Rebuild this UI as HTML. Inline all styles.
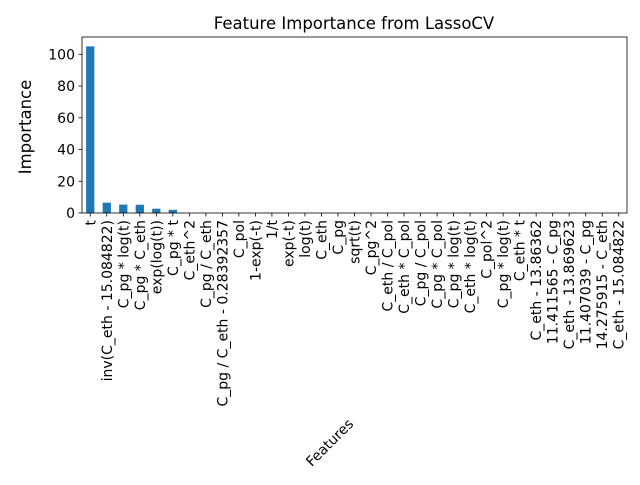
<!DOCTYPE html>
<html><head><meta charset="utf-8"><style>
body{margin:0;background:#fff}
svg text{font-family:"DejaVu Sans","Liberation Sans",sans-serif;fill:#000}
</style></head><body>
<svg id="chart" width="640" height="480" xmlns="http://www.w3.org/2000/svg">
<rect width="640" height="480" fill="#fff"/>
<text x="354" y="29" font-size="16.5" text-anchor="middle">Feature Importance from LassoCV</text>
<text transform="translate(31,127) rotate(-90)" font-size="16.5" text-anchor="middle">Importance</text>
<text transform="translate(333,446) rotate(-45)" font-size="14" text-anchor="middle">Features</text>
<g id="bars"></g><g id="xt"></g><g id="yt"></g>
<rect x="82" y="37" width="545" height="176" fill="none" stroke="#000" stroke-width="0.8"/>
</svg>
<script>
const categories=["t","inv(C_eth - 15.084822)","C_pg * log(t)","C_pg * C_eth","exp(log(t))","C_pg * t","C_eth^2","C_pg / C_eth","C_pg / C_eth - 0.28392357","C_pol","1-exp(-t)","1/t","exp(-t)","log(t)","C_eth","C_pg","sqrt(t)","C_pg^2","C_eth / C_pol","C_eth * C_pol","C_pg / C_pol","C_pg * C_pol","C_pg * log(t)","C_eth * log(t)","C_pol^2","C_pg * log(t)","C_eth * t","C_eth - 13.86362","11.411565 - C_pg","C_eth - 13.869623","11.407039 - C_pg","14.275915 - C_eth","C_eth - 15.084822"];
const values=[105,6.5,5.3,5.2,2.7,2.0,0,0,0,0,0,0,0,0,0,0,0,0,0,0,0,0,0,0,0,0,0,0,0,0,0,0,0];
const yTicks=[0,20,40,60,80,100];
const NS="http://www.w3.org/2000/svg";
const x0=82,x1=627,yTop=37,yBot=213,yMax=110.9;
const step=(x1-x0)/categories.length;
const xs=i=>x0+step*(i+0.5);
const ys=v=>yBot-(v/yMax)*(yBot-yTop);
const bars=document.getElementById('bars'),xt=document.getElementById('xt'),yt=document.getElementById('yt');
function mk(t,a){const e=document.createElementNS(NS,t);for(const k in a)e.setAttribute(k,a[k]);return e;}
values.forEach((v,i)=>{
 const r=mk('rect',{x:xs(i)-step/4,y:ys(v),width:step/2,height:yBot-ys(v),fill:'#1f77b4'});
 
 
 bars.appendChild(r);
});
categories.forEach((c,i)=>{
 const x=xs(i);
 const l=mk('line',{x1:x,x2:x,y1:yBot,y2:yBot+3.5,stroke:'#000','stroke-width':0.8});
 
 
 xt.appendChild(l);
 const t=mk('text',{transform:`translate(${x+5},${yBot+7}) rotate(-90)`,'font-size':14,'text-anchor':'end'});
 t.textContent=c;
 
 
 xt.appendChild(t);
});
yTicks.forEach(v=>{
 const y=ys(v);
 const l=mk('line',{x1:x0-3.5,x2:x0,y1:y,y2:y,stroke:'#000','stroke-width':0.8});
 
 
 yt.appendChild(l);
 const t=mk('text',{x:x0-7,y:y+5,'font-size':14,'text-anchor':'end'});
 t.textContent=v;
 
 
 yt.appendChild(t);
});
</script>
</body></html>
